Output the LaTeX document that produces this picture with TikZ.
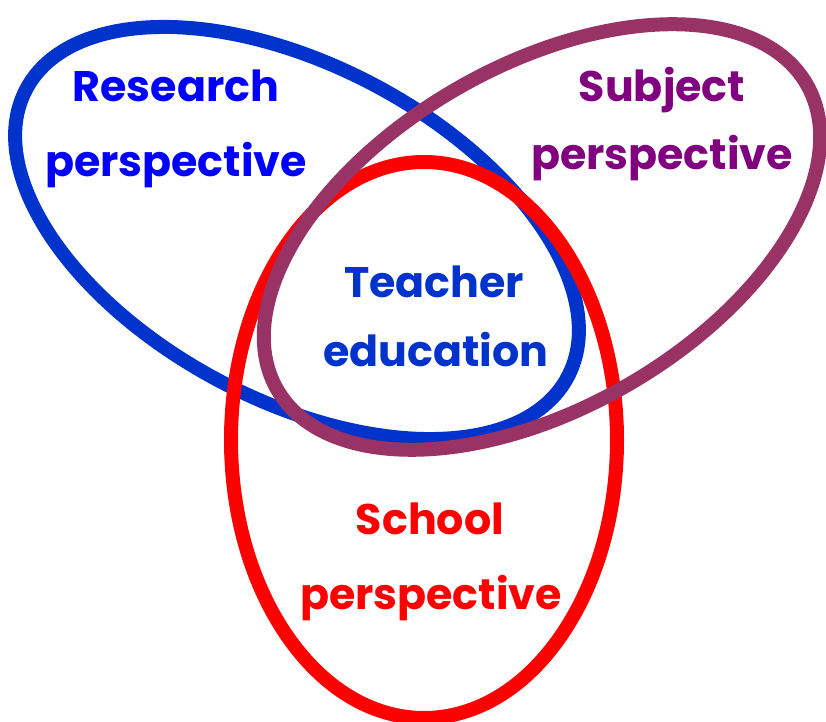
\documentclass[tikz,border=0pt]{standalone}
\usepackage{fontspec}
\setmainfont{Poppins}
\definecolor{ringblue}{RGB}{0,51,204}
\definecolor{ringred}{RGB}{255,0,0}
\definecolor{ringplum}{RGB}{153,51,102}
\definecolor{textblue}{RGB}{0,0,255}
\definecolor{textnavy}{RGB}{0,51,204}
\definecolor{textpurple}{RGB}{128,0,128}
\begin{document}
\begin{tikzpicture}[x=0.03cm,y=0.03cm,
  ring/.style={line width=0.42cm},
  lbl/.style={inner sep=0pt,anchor=base,font=\fontsize{36.5}{40}\selectfont\bfseries}]
\useasboundingbox (0,0) rectangle (826,722);
% the three perspectives
\draw[ring,ringblue,rotate around={-28:(297,489)}] (297,489) ellipse [x radius=306.6,y radius=167];
\draw[ring,ringred] (424,282) ellipse [x radius=193,y radius=278];
\draw[ring,ringplum,rotate around={30:(542,485)}] (542,485) ellipse [x radius=305.6,y radius=171];
% labels
\node[lbl,textblue] (research1) at (176,620) {Research};
\node[lbl,textblue] (research2) at (176,545) {perspective};
\node[lbl,textpurple] (subject1) at (662,620) {Subject};
\node[lbl,textpurple] (subject2) at (662,552) {perspective};
\node[lbl,textnavy] (teacher1) at (434,424) {Teacher};
\node[lbl,textnavy] (teacher2) at (436,355) {education};
\node[lbl,ringred] (school1) at (430,187) {School};
\node[lbl,ringred] (school2) at (431,112) {perspective};
\end{tikzpicture}
\end{document}
